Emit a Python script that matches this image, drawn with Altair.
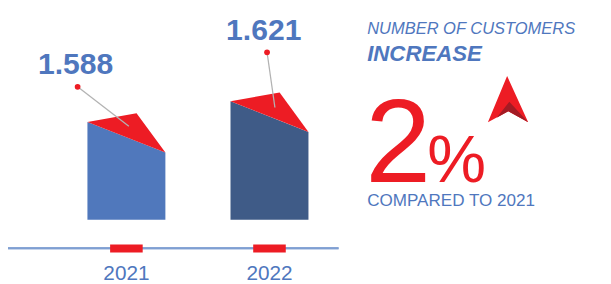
import altair as alt
import pandas as pd

# ---------------- data ----------------
years = ["2021", "2022"]
customer_labels = ["1.588", "1.621"]
# bar outline heights above the bar base (left edge, peak of red cap, right edge)
top_left = [99, 120]
top_peak = [108, 129]
top_right = [68, 89]
bar_colors = ["#5078bc", "#3f5b87"]
RED = "#ed1c24"
DARK_RED = "#a31b24"
BLUE_TEXT = "#4f77be"

headline = "NUMBER OF CUSTOMERS"
headline2 = "INCREASE"
pct_value = "2"
pct_sign = "%"
footnote = "COMPARED TO 2021"

# ---------------- layout ----------------
W, H = 603, 276
slot_px = 145.0
x0_px = 120.0
base_px = 212.7
half_w = 39.5 / slot_px
peak_frac = 0.63

xs = alt.Scale(domain=[-x0_px / slot_px, (W - x0_px) / slot_px], range=[0, W], nice=False, zero=False)
ys = alt.Scale(domain=[-(H - base_px), base_px], range=[H, 0], nice=False, zero=False)

label_dx = [-0.355, -0.04]
label_h = [147.5, 182.0]
dot_dx = [-0.341, -0.017]
dot_h = [134.7, 169.7]
end_dx = [0.017, 0.038]
end_h = [94.7, 113.7]

# ---------------- tables ----------------
body_rows, cap_rows = [], []
for i, yr in enumerate(years):
    l, r = i - half_w, i + half_w
    px = l + peak_frac * (r - l)
    body_rows += [dict(year=yr, x=l, y=top_left[i], y2=0),
                  dict(year=yr, x=r, y=top_right[i], y2=0)]
    mid = top_left[i] + peak_frac * (top_right[i] - top_left[i])
    cap_rows += [dict(year=yr, x=l, y=top_left[i], y2=top_left[i]),
                 dict(year=yr, x=px, y=top_peak[i], y2=mid),
                 dict(year=yr, x=r, y=top_right[i], y2=top_right[i])]
body = pd.DataFrame(body_rows)
cap = pd.DataFrame(cap_rows)

n = len(years)
bars_df = pd.DataFrame({
    "year": years,
    "slot": list(range(n)),
    "label": customer_labels,
    "lx": [i + d for i, d in enumerate(label_dx)],
    "ly": label_h,
    "dx": [i + d for i, d in enumerate(dot_dx)],
    "dy": dot_h,
    "ex": [i + d for i, d in enumerate(end_dx)],
    "ey": end_h,
    "mx": [i - 0.1138 for i in range(n)],
    "mx2": [i + 0.1138 for i in range(n)],
    "my": [-25.0] * n,
    "my2": [-33.3] * n,
    "axy": [-29.0] * n,
    "yy": [-60.8] * n,
})

def X(f):
    return alt.X(f, scale=xs, axis=None)

def Y(f):
    return alt.Y(f, scale=ys, axis=None, stack=None)

blue = alt.Chart(body).mark_area(interpolate="linear").encode(
    x=X("x:Q"), y=Y("y:Q"), y2="y2:Q",
    color=alt.Color("year:N", scale=alt.Scale(domain=years, range=bar_colors), legend=None),
)
red_cap = alt.Chart(cap).mark_area(interpolate="linear", color=RED).encode(
    x=X("x:Q"), y=Y("y:Q"), y2="y2:Q", detail="year:N",
)

base = alt.Chart(bars_df)
leader = base.mark_rule(color="#b3b3b3", strokeWidth=1.3).encode(
    x=X("dx:Q"), y=Y("dy:Q"), x2="ex:Q", y2="ey:Q")
dots = base.mark_circle(color=RED, size=34, opacity=1).encode(x=X("dx:Q"), y=Y("dy:Q"))
labels = base.mark_text(font="Liberation Sans", fontWeight="bold", fontSize=30.5,
                        color=BLUE_TEXT, align="center", baseline="alphabetic").encode(
    x=X("lx:Q"), y=Y("ly:Q"), text="label:N")

axis_line = base.mark_rule(color="#7f9fd2", strokeWidth=2).encode(
    x=alt.value(0), x2=alt.value(335), y=Y("axy:Q"))
markers = base.mark_rect(color=RED).encode(
    x=X("mx:Q"), x2="mx2:Q", y=Y("my:Q"), y2="my2:Q")
year_text = base.mark_text(font="Liberation Sans", fontSize=21, color=BLUE_TEXT,
                           align="center", baseline="alphabetic").encode(
    x=X("slot:Q"), y=Y("yy:Q"), text="year:N")


def note(text, x, y, size, color=BLUE_TEXT, style="normal", weight="normal", font="Liberation Sans"):
    return alt.Chart(pd.DataFrame({"t": [text]})).mark_text(
        font=font, fontSize=size, fontStyle=style, fontWeight=weight, color=color,
        align="left", baseline="alphabetic").encode(
        x=alt.value(x), y=alt.value(y), text="t:N")


t1 = note(headline, 364, 25, 16.7, style="italic")
t2 = note(headline2, 364, 51.7, 22.5, style="italic", weight="bold")
t3 = note(pct_value, 362, 174, 120, color=RED)
t4 = note(pct_sign, 425, 174, 67, color=RED)
t5 = note(footnote, 364, 198.5, 17.3)

arrow_bright = "M-0.05,-1 L0.86,1 L0,0.52 L-0.88,1 Z"
arrow_dark = "M-0.5,0.8 L0.045,0.11 L0.86,1 L0,0.52 Z"
arrow_df = pd.DataFrame({"k": ["a"]})
arrow_size = 2200
arrow1 = alt.Chart(arrow_df).mark_point(shape=arrow_bright, filled=True, color=RED,
                                        size=arrow_size, opacity=1, strokeWidth=0).encode(
    x=alt.value(507), y=alt.value(90.5))
arrow2 = alt.Chart(arrow_df).mark_point(shape=arrow_dark, filled=True, color=DARK_RED,
                                        size=arrow_size, opacity=1, strokeWidth=0).encode(
    x=alt.value(507), y=alt.value(90.5))

chart = alt.layer(
    blue, red_cap, leader, dots, labels, axis_line, markers, year_text,
    t1, t2, t3, t4, t5, arrow1, arrow2,
).properties(
    width=W, height=H, padding=0, background="white",
    autosize=alt.AutoSizeParams(type="none"),
).configure_view(stroke=None)

chart.save("out.html", embed_options={"renderer": "svg", "actions": False})
